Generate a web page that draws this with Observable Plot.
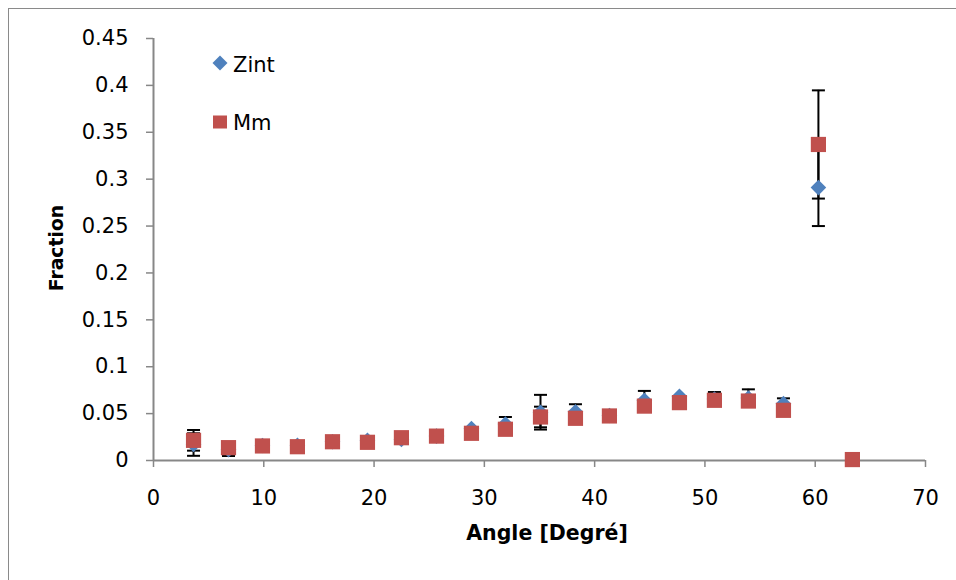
<!DOCTYPE html>
<html>
<head>
<meta charset="utf-8">
<script src="https://cdn.jsdelivr.net/npm/d3@7"></script>
<script src="https://cdn.jsdelivr.net/npm/@observablehq/plot@0.6"></script>
<style>
  html, body { margin: 0; padding: 0; background: #fff; }
  #wrap { position: relative; width: 956px; height: 580px; overflow: hidden; font-family: "DejaVu Sans", sans-serif; }
  #border { position: absolute; left: 8px; top: 8px; width: 2000px; height: 2000px; border-left: 1px solid #8a8a8a; border-top: 1px solid #8a8a8a; }
  #chart { position: absolute; left: 0; top: 0; }
  .lbl { position: absolute; font-family: "DejaVu Sans", sans-serif; font-weight: bold; color: #000; white-space: nowrap; line-height: 1; }
  .leg { position: absolute; font-family: "DejaVu Sans", sans-serif; font-size: 21px; color: #000; white-space: nowrap; line-height: 1; }
</style>
</head>
<body>
<div id="wrap">
  <div id="border"></div>
  <div id="chart"></div>
</div>
<script>
// ---- data ----
const angles   = [3.63, 6.80, 9.88, 13.05, 16.23, 19.40, 22.48, 25.66, 28.83, 31.91, 35.09, 38.26, 41.34, 44.51, 47.69, 50.86, 53.94, 57.12, 60.29, 63.37];
const zintVals = [0.017, 0.0115, 0.016, 0.0162, 0.020, 0.0215, 0.0225, 0.026, 0.034, 0.039, 0.0515, 0.052, 0.048, 0.0642, 0.0685, 0.0656, 0.0666, 0.0606, 0.291, null];
const zintErr  = [0.012, 0.0067, 0.004, 0.004, 0.004, 0.003, 0.003, 0.004, 0, 0.0074, 0.0185, 0.008, 0.004, 0.010, 0, 0.0074, 0.0093, 0.0057, 0.041, null];
const mmVals   = [0.0215, 0.0137, 0.0155, 0.0147, 0.020, 0.0194, 0.0243, 0.026, 0.029, 0.0333, 0.0464, 0.045, 0.0475, 0.058, 0.0617, 0.0642, 0.0634, 0.0535, 0.337, 0.001];
const mmErr    = [0.011, 0.004, 0.004, 0.004, 0.004, 0.004, 0.004, 0.004, 0.004, 0.004, 0.011, 0.004, 0.004, 0.004, 0.004, 0.004, 0.004, 0.004, 0.0577, 0];
const xTicks   = [0, 10, 20, 30, 40, 50, 60, 70];
const yTicks   = [0, 0.05, 0.1, 0.15, 0.2, 0.25, 0.3, 0.35, 0.4, 0.45];
const seriesNames = ["Zint", "Mm"];
const seriesColors = ["#4F81BD", "#C0504D"];
const xLabel = "Angle [Degré]";
const yLabel = "Fraction";

// ---- tables ----
const zint = angles.map((a, i) => ({a, v: zintVals[i], e: zintErr[i]})).filter(d => d.v != null);
const mm   = angles.map((a, i) => ({a, v: mmVals[i], e: mmErr[i]}));
const bars = [...zint, ...mm].filter(d => d.e > 0);

// ---- symbols ----
const capSym = {draw(ctx) { ctx.moveTo(-6.5, 0); ctx.lineTo(6.5, 0); }};
const diamondSym = {draw(ctx) { ctx.moveTo(0, -7.8); ctx.lineTo(7.8, 0); ctx.lineTo(0, 7.8); ctx.lineTo(-7.8, 0); ctx.closePath(); }};
const squareSym = {draw(ctx) { ctx.rect(-7.6, -7.6, 15.2, 15.2); }};

const axisGray = "#878787";

const plot = Plot.plot({
  width: 956,
  height: 580,
  marginLeft: 153,
  marginRight: 31,
  marginTop: 38,
  marginBottom: 120,
  style: {fontFamily: "DejaVu Sans, sans-serif", fontSize: "21px", color: "#000", background: "transparent", overflow: "visible"},
  x: {domain: [0, 70]},
  y: {domain: [0, 0.45]},
  marks: [
    Plot.axisX({ticks: xTicks, tickSize: 7, tickPadding: 23, stroke: axisGray, strokeWidth: 1.5, fill: "#000", label: null, tickFormat: d => String(d)}),
    Plot.axisY({ticks: yTicks, tickSize: 7, tickPadding: 18, stroke: axisGray, strokeWidth: 1.5, fill: "#000", label: null, tickFormat: d => String(d)}),
    Plot.ruleX([0], {stroke: axisGray, strokeWidth: 2}),
    Plot.ruleY([0], {stroke: axisGray, strokeWidth: 2}),
    Plot.ruleX(bars, {x: "a", y1: d => d.v - d.e, y2: d => d.v + d.e, stroke: "#000", strokeWidth: 2}),
    Plot.dot(bars, {x: "a", y: d => d.v + d.e, symbol: capSym, fill: "none", stroke: "#000", strokeWidth: 2, r: 5}),
    Plot.dot(bars, {x: "a", y: d => d.v - d.e, symbol: capSym, fill: "none", stroke: "#000", strokeWidth: 2, r: 5}),
    Plot.dot(zint, {x: "a", y: "v", symbol: diamondSym, fill: seriesColors[0], stroke: "none", r: 5}),
    Plot.dot(mm, {x: "a", y: "v", symbol: squareSym, fill: seriesColors[1], stroke: "none", r: 5})
  ]
});
document.getElementById("chart").appendChild(plot);

const wrap = document.getElementById("wrap");
// axis titles
const xl = document.createElement("div");
xl.className = "lbl"; xl.textContent = xLabel; xl.style.fontSize = "20.5px";
xl.style.left = "547px"; xl.style.top = "523px"; xl.style.transform = "translateX(-50%)";
wrap.appendChild(xl);
const yl = document.createElement("div");
yl.className = "lbl"; yl.textContent = yLabel; yl.style.fontSize = "18.8px";
yl.style.left = "57px"; yl.style.top = "248px";
yl.style.transform = "translate(-50%, -50%) rotate(-90deg)";
wrap.appendChild(yl);

// legend
const legSvg = (i) => i === 0
  ? `<svg width="18" height="18" style="position:absolute;left:-9px;top:-9px"><path d="M9,1.5L16.5,9L9,16.5L1.5,9Z" fill="${seriesColors[0]}"/></svg>`
  : `<svg width="18" height="18" style="position:absolute;left:-9px;top:-9px"><rect x="2" y="2.5" width="14" height="13" fill="${seriesColors[1]}"/></svg>`;
const legPos = [{cx: 220, cy: 63, ty: 55}, {cx: 219.5, cy: 122, ty: 113}];
seriesNames.forEach((name, i) => {
  const s = document.createElement("div");
  s.style.position = "absolute"; s.style.left = legPos[i].cx + "px"; s.style.top = legPos[i].cy + "px";
  s.innerHTML = legSvg(i);
  wrap.appendChild(s);
  const t = document.createElement("div");
  t.className = "leg"; t.textContent = name;
  t.style.left = "233px"; t.style.top = legPos[i].ty + "px";
  wrap.appendChild(t);
});
</script>
</body>
</html>
